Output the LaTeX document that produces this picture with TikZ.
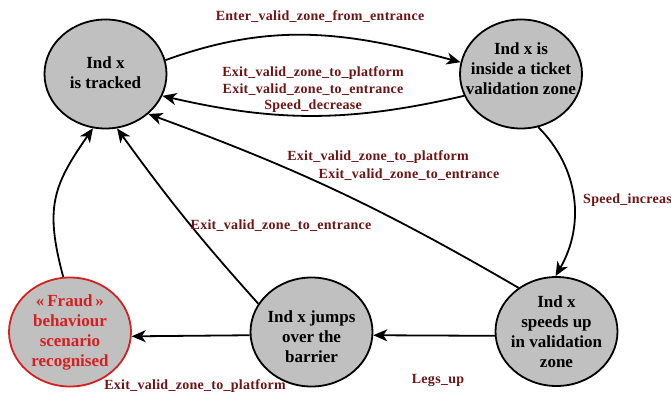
\documentclass[tikz,border=0pt]{standalone}
\usepackage{fontspec}
\setmainfont{Liberation Serif}
\usetikzlibrary{shapes.geometric,arrows.meta}
\definecolor{lblred}{HTML}{6E1414}
\definecolor{fraudred}{HTML}{D42020}
\definecolor{stategray}{HTML}{C0C0C0}
\tikzset{
  stateshape/.style={ellipse, draw=black, line width=1.8pt, fill=stategray, inner sep=0pt,
    minimum width=122pt, minimum height=109pt},
  fraudshape/.style={stateshape, draw=fraudred},
  statetext/.style={font=\fontsize{17}{20}\selectfont\bfseries, align=center, inner sep=0pt},
  fraudtext/.style={statetext, text=fraudred},
  lbl/.style={font=\fontsize{14}{16.5}\selectfont\bfseries\addfontfeature{LetterSpace=2}, text=lblred,
    inner sep=0pt, align=center},
  edge/.style={line width=1.8pt, -{Stealth[length=14pt,width=12pt,inset=4pt]}}
}
\begin{document}
\begin{tikzpicture}[x=1pt,y=1pt]
\useasboundingbox[fill=white] (0,0) rectangle (671,392);
% states
\node[stateshape] (t) at (105.5,318) {};
\node[stateshape] (v) at (521,318) {};
\node[stateshape] (s) at (556.5,60.5) {};
\node[stateshape] (j) at (311.5,60) {};
\node[fraudshape] (f) at (70,60) {};
\node[statetext] (tT) at (105.5,319) {Ind x\\is tracked};
\node[statetext] (vT) at (521,323) {Ind x is\\inside a ticket\\validation zone};
\node[statetext] (sT) at (556.5,60) {Ind x\\speeds up\\in validation\\zone};
\node[statetext] (jT) at (311.5,55.5) {Ind x jumps\\over the\\barrier};
\node[fraudtext] (fT) at (70,60) {«\,Fraud\,»\\behaviour\\scenario\\recognised};
% transitions
\draw[edge] (t.13) to[out=20,in=165] (v.169);
\draw[edge] (v.201) to[out=193,in=-13] (t.-21);
\draw[edge] (s.131) to[bend right=5] (t.-43);
\draw[edge] (v.-72) to[out=-45,in=60] (s.91);
\draw[edge] (s.184) -- (j.-3);
\draw[edge] (j.152) to[bend left=3] (t.-78);
\draw[edge] (f.97) to[out=105,in=-125,looseness=1.2] (t.-103);
\draw[edge] (j.183) -- (f.-4);
% labels
\node[lbl] (l1) at (320,375) {Enter\_valid\_zone\_from\_entrance};
\node[lbl] (l2) at (313,302.3) {Exit\_valid\_zone\_to\_platform\\Exit\_valid\_zone\_to\_entrance\\Speed\_decrease};
\node[lbl] (l3) at (378,235) {Exit\_valid\_zone\_to\_platform};
\node[lbl] (l4) at (409,217) {Exit\_valid\_zone\_to\_entrance};
\node[lbl, anchor=west] (l5) at (583,192) {Speed\_increas};
\node[lbl] (l6) at (281,166) {Exit\_valid\_zone\_to\_entrance};
\node[lbl] (l7) at (195,6) {Exit\_valid\_zone\_to\_platform};
\node[lbl] (l8) at (438,12) {Legs\_up};
\end{tikzpicture}
\end{document}
